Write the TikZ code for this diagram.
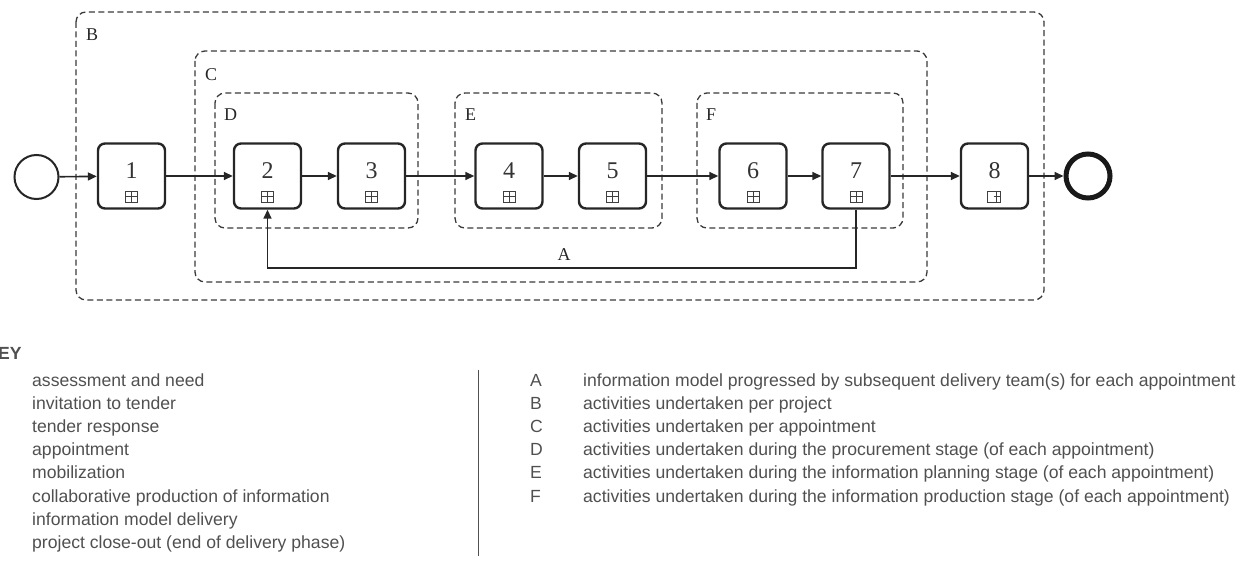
\documentclass[tikz,border=0pt]{standalone}
\usepackage{fontspec}
\setmainfont{Liberation Serif}
\newfontfamily\keyfont{Liberation Sans}
\usetikzlibrary{arrows.meta,calc}
\definecolor{keygray}{HTML}{505050}
\definecolor{dashgray}{HTML}{3A3A3A}
\begin{document}
\begin{tikzpicture}[x=1pt,y=-1pt,
  task/.style={draw=black!85, line width=2.4pt, rounded corners=7pt, minimum width=67pt, minimum height=65pt, inner sep=0pt, fill=white},
  num/.style={font=\fontsize{24}{24}\selectfont, text=black!80, inner sep=0pt},
  grp/.style={draw=dashgray, line width=1.3pt, rounded corners=10pt, dash pattern=on 6pt off 3.5pt},
  grplabel/.style={font=\fontsize{18}{18}\selectfont, text=black!85, anchor=west, inner sep=0pt},
  flow/.style={draw=black!85, line width=1.6pt, -{Triangle[length=9pt,width=8pt]}},
  marker/.style={draw=black!75, line width=0.8pt},
  keytext/.style={font=\keyfont\fontsize{17.6}{17.6}\selectfont, text=keygray, anchor=base west, inner sep=0pt}
]
\useasboundingbox (0,0) rectangle (1249,564);

% groups
\draw[grp] (76,12) rectangle (1044,300);
\draw[grp] (195,51) rectangle (927,282);
\draw[grp] (215,93) rectangle (418,228);
\draw[grp] (455,93) rectangle (662,228);
\draw[grp] (697,93) rectangle (903,228);
\node[grplabel] (lB) at (86,35) {B};
\node[grplabel] (lC) at (205,75) {C};
\node[grplabel] (lD) at (224,115) {D};
\node[grplabel] (lE) at (465,115) {E};
\node[grplabel] (lF) at (706,115) {F};

% events
\node[draw=black!85, circle, line width=2pt, minimum size=44pt, inner sep=0pt] (start) at (36.5,177) {};
\node[draw=black!90, circle, line width=5pt, minimum size=44pt, inner sep=0pt] (end) at (1088,176) {};

% tasks
\foreach \n/\x in {1/131.5, 2/267.5, 3/371.5, 4/509, 5/612.5, 6/753, 7/856, 8/994.5} {
  \node[task] (t\n) at (\x,176) {};
  \node[num] (n\n) at ($(t\n.center)+(0,-5)$) {\n};
}
\foreach \n in {1,...,7} {
  \draw[marker] ($(t\n.center)+(-6,15)$) rectangle ($(t\n.center)+(6,26)$);
  \draw[marker] ($(t\n.center)+(0,15)$) -- ($(t\n.center)+(0,26)$);
  \draw[marker] ($(t\n.center)+(-6,20.5)$) -- ($(t\n.center)+(6,20.5)$);
}
\draw[marker] ($(t8.center)+(-7,15)$) rectangle ($(t8.center)+(6,26)$);
\draw[marker] ($(t8.center)+(2,15)$) -- ($(t8.center)+(2,26)$);
\draw[marker] ($(t8.center)+(-1,20.5)$) -- ($(t8.center)+(6,20.5)$);

% flows
\draw[flow] (start) -- (t1);
\draw[flow] (t1) -- (t2);
\draw[flow] (t2) -- (t3);
\draw[flow] (t3) -- (t4);
\draw[flow] (t4) -- (t5);
\draw[flow] (t5) -- (t6);
\draw[flow] (t6) -- (t7);
\draw[flow] (t7) -- (t8);
\draw[flow] (t8) -- (end);
\coordinate (a1) at (t7.south |- 0,268);
\coordinate (a2) at (t2.south |- 0,268);
\draw[flow, rounded corners=0pt] (t7.south) -- (a1) -- (a2) -- (t2.south);
\node[font=\fontsize{18}{18}\selectfont, text=black!85, inner sep=0pt] (lA) at (564,255) {A};

% key
\node[keytext, font=\keyfont\bfseries\fontsize{17.6}{17.6}\selectfont] (key) at (-2,359) {EY};
\foreach \i/\t in {0/assessment and need, 1/invitation to tender, 2/tender response, 3/appointment, 4/mobilization, 5/collaborative production of information, 6/information model delivery, 7/project close-out (end of delivery phase)} {
  \node[keytext] (k\i) at (32,{386+23.2*\i}) {\t};
}
\draw[keygray, line width=1pt] (478,370) -- (478,556);
\foreach \i/\l/\t in {0/A/information model progressed by subsequent delivery team(s) for each appointment, 1/B/activities undertaken per project, 2/C/activities undertaken per appointment, 3/D/activities undertaken during the procurement stage (of each appointment), 4/E/activities undertaken during the information planning stage (of each appointment), 5/F/activities undertaken during the information production stage (of each appointment)} {
  \node[keytext] (r\i) at (530,{386+23.2*\i}) {\l};
  \node[keytext] (s\i) at (583,{386+23.2*\i}) {\t};
}
\end{tikzpicture}
\end{document}
